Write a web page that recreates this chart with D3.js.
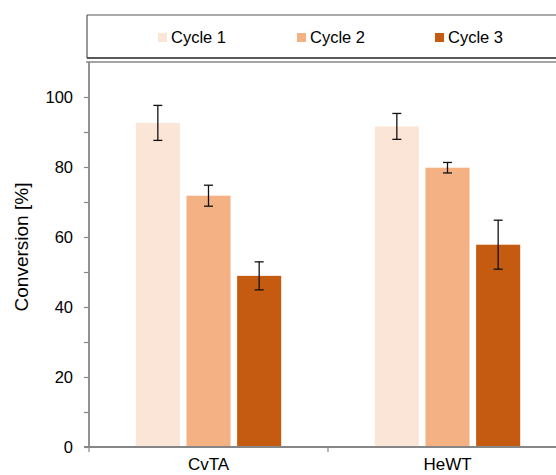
<!DOCTYPE html>
<html>
<head>
<meta charset="utf-8">
<script src="https://cdn.jsdelivr.net/npm/d3@7"></script>
<style>
  html, body { margin: 0; padding: 0; background: #fff; }
  svg { display: block; font-family: Arial, "Liberation Sans", sans-serif; }
</style>
</head>
<body>
<svg id="chart" width="556" height="475"></svg>
<script>
const categories = ["CvTA", "HeWT"];
const seriesNames = ["Cycle 1", "Cycle 2", "Cycle 3"];
const seriesColors = ["#FBE5D6", "#F4B183", "#C55A11"];
const cycle1 = [92.6, 91.6];
const cycle2 = [71.8, 79.8];
const cycle3 = [48.9, 57.8];
const err1 = [5.0, 3.7];
const err2 = [3.0, 1.5];
const err3 = [4.0, 7.0];
const yTicks = [0, 20, 40, 60, 80, 100];
const yMinorTicks = [10, 30, 50, 70, 90];

(function () {
const values = [cycle1, cycle2, cycle3];
const errors = [err1, err2, err3];

const svg = d3.select("#chart");
const W = 556;
const mLeft = 89, mTop = 62, mBottom = 447;
const band = 239;

const x0 = d3.scaleBand().domain(categories).range([mLeft, mLeft + band * categories.length]).padding(0);
const outer = 46.8;
const x1 = d3.scaleBand().domain(seriesNames).range([outer, x0.bandwidth() - outer]).paddingInner(0.13).paddingOuter(0);
const y = d3.scaleLinear().domain([0, 110]).range([mBottom, mTop]);
const color = d3.scaleOrdinal().domain(seriesNames).range(seriesColors);

const axisColor = "#868686";

// Legend box
const lg = svg.append("g");
lg.append("line").attr("x1", 87).attr("x2", W + 2).attr("y1", 15).attr("y2", 15).attr("stroke", "#8c8c8c").attr("stroke-width", 1.5);
lg.append("line").attr("x1", 87).attr("x2", 87).attr("y1", 15).attr("y2", 58).attr("stroke", "#555").attr("stroke-width", 1.2);
lg.append("line").attr("x1", 87).attr("x2", W + 2).attr("y1", 58).attr("y2", 58).attr("stroke", "#222").attr("stroke-width", 1.3);
const legendX = [158, 297, 435];
seriesNames.forEach((s, i) => {
  lg.append("rect").attr("x", legendX[i]).attr("y", 33).attr("width", 9).attr("height", 9).attr("fill", color(s));
  lg.append("text").attr("x", legendX[i] + 13).attr("y", 43).attr("font-size", 16.5).attr("fill", "#000").text(s);
});

// Plot area top border
svg.append("line").attr("x1", 86).attr("x2", W + 2).attr("y1", mTop).attr("y2", mTop).attr("stroke", axisColor).attr("stroke-width", 1.5);

// Bars
const groups = svg.append("g").selectAll("g").data(categories).join("g")
  .attr("transform", d => `translate(${x0(d)},0)`);
seriesNames.forEach((s, si) => {
  groups.append("rect")
    .attr("x", x1(s))
    .attr("y", (d, ci) => y(values[si][ci]))
    .attr("width", x1.bandwidth())
    .attr("height", (d, ci) => y(0) - y(values[si][ci]))
    .attr("fill", color(s));
});
// Error bars
seriesNames.forEach((s, si) => {
  const cx = x1(s) + x1.bandwidth() / 2;
  groups.each(function(d, ci) {
    const g = d3.select(this);
    const v = values[si][ci], e = errors[si][ci];
    g.append("line").attr("x1", cx).attr("x2", cx).attr("y1", y(v + e)).attr("y2", y(v - e)).attr("stroke", "#111").attr("stroke-width", 1.3);
    [v + e, v - e].forEach(t => {
      g.append("line").attr("x1", cx - 4.5).attr("x2", cx + 4.5).attr("y1", y(t)).attr("y2", y(t)).attr("stroke", "#111").attr("stroke-width", 1.3);
    });
  });
});

// Y axis
const yAxis = svg.append("g").attr("transform", `translate(${mLeft},0)`)
  .call(d3.axisLeft(y).tickValues(yTicks).tickSize(5).tickPadding(11).tickSizeOuter(0));
yAxis.select(".domain").remove();
yAxis.selectAll(".tick line").attr("stroke", axisColor).attr("stroke-width", 1.2);
yAxis.selectAll(".tick text").attr("font-size", 16.5).attr("fill", "#000").attr("font-family", "Arial, 'Liberation Sans', sans-serif");
const yMinor = svg.append("g").attr("transform", `translate(${mLeft},0)`)
  .call(d3.axisLeft(y).tickValues(yMinorTicks).tickSize(5).tickFormat(""));
yMinor.select(".domain").remove();
yMinor.selectAll(".tick line").attr("stroke", axisColor).attr("stroke-width", 1.2);
svg.append("line").attr("x1", mLeft).attr("x2", mLeft).attr("y1", mTop).attr("y2", mBottom).attr("stroke", axisColor).attr("stroke-width", 1.8);

// X axis
svg.append("line").attr("x1", mLeft - 5).attr("x2", W + 2).attr("y1", mBottom).attr("y2", mBottom).attr("stroke", axisColor).attr("stroke-width", 1.8);
const edges = categories.map(c => x0(c)).concat([x0.range()[1]]);
svg.append("g").selectAll("line").data(edges).join("line")
  .attr("x1", d => d).attr("x2", d => d).attr("y1", mBottom).attr("y2", mBottom + 5)
  .attr("stroke", axisColor).attr("stroke-width", 1.2);
svg.append("g").selectAll("text").data(categories).join("text")
  .attr("x", d => x0(d) + x0.bandwidth() / 2).attr("y", 470)
  .attr("text-anchor", "middle").attr("font-size", 17).attr("fill", "#000").text(d => d);

// Y title
svg.append("text").attr("transform", `translate(28,247) rotate(-90)`)
  .attr("text-anchor", "middle").attr("font-size", 19).attr("fill", "#000").text("Conversion [%]");
})();
</script>
</body>
</html>
